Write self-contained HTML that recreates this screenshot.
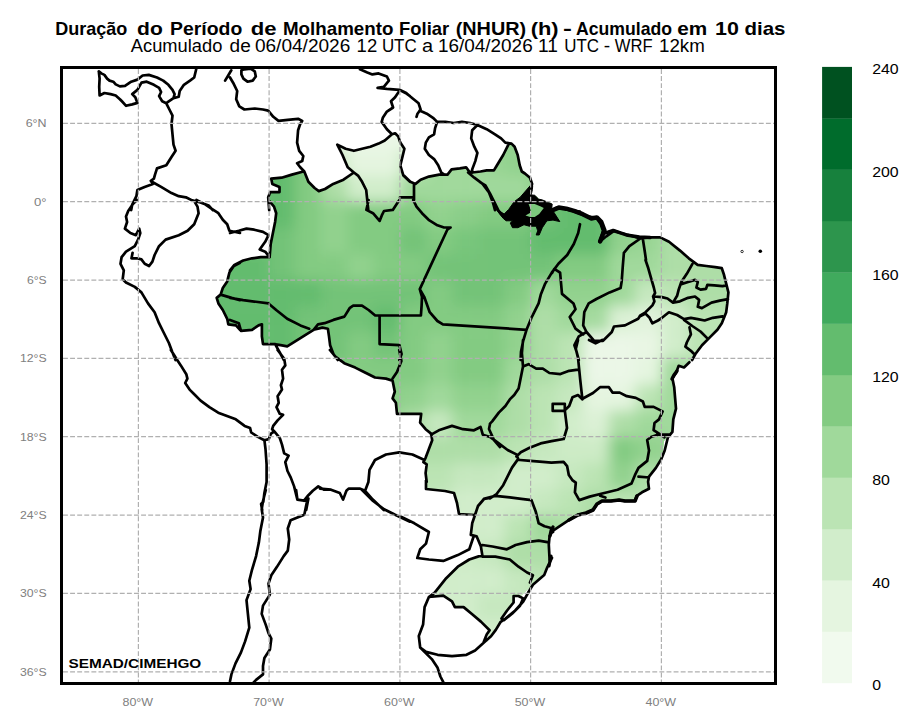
<!DOCTYPE html><html><head><meta charset="utf-8"><style>html,body{margin:0;padding:0;background:#fff;width:918px;height:727px;overflow:hidden}svg{display:block}text{font-family:"Liberation Sans",sans-serif}</style></head><body><svg width="918" height="727" viewBox="0 0 918 727"><g font-size="17.8" font-weight="bold" fill="#000"><text x="55.2" y="35" textLength="72.2" lengthAdjust="spacingAndGlyphs">Duração</text><text x="137.1" y="35" textLength="25.7" lengthAdjust="spacingAndGlyphs">do</text><text x="170.1" y="35" textLength="72.2" lengthAdjust="spacingAndGlyphs">Período</text><text x="250.7" y="35" textLength="25.8" lengthAdjust="spacingAndGlyphs">de</text><text x="283.0" y="35" textLength="110.4" lengthAdjust="spacingAndGlyphs">Molhamento</text><text x="399.1" y="35" textLength="50.1" lengthAdjust="spacingAndGlyphs">Foliar</text><text x="455.7" y="35" textLength="70.5" lengthAdjust="spacingAndGlyphs">(NHUR)</text><text x="530.7" y="35" textLength="27.9" lengthAdjust="spacingAndGlyphs">(h)</text><text x="563.1" y="35" textLength="8.9" lengthAdjust="spacingAndGlyphs">-</text><text x="576.0" y="35" textLength="96.0" lengthAdjust="spacingAndGlyphs">Acumulado</text><text x="677.3" y="35" textLength="30.0" lengthAdjust="spacingAndGlyphs">em</text><text x="715.0" y="35" textLength="23.9" lengthAdjust="spacingAndGlyphs">10</text><text x="744.6" y="35" textLength="40.9" lengthAdjust="spacingAndGlyphs">dias</text></g><g font-size="18.3" fill="#000"><text x="130.8" y="51.6" textLength="91.6" lengthAdjust="spacingAndGlyphs">Acumulado</text><text x="229.6" y="51.6" textLength="21.2" lengthAdjust="spacingAndGlyphs">de</text><text x="254.9" y="51.6" textLength="95.4" lengthAdjust="spacingAndGlyphs">06/04/2026</text><text x="356.6" y="51.6" textLength="20.6" lengthAdjust="spacingAndGlyphs">12</text><text x="381.9" y="51.6" textLength="34.8" lengthAdjust="spacingAndGlyphs">UTC</text><text x="422.1" y="51.6" textLength="11.1" lengthAdjust="spacingAndGlyphs">a</text><text x="437.9" y="51.6" textLength="94.8" lengthAdjust="spacingAndGlyphs">16/04/2026</text><text x="538.0" y="51.6" textLength="19.9" lengthAdjust="spacingAndGlyphs">11</text><text x="564.2" y="51.6" textLength="34.8" lengthAdjust="spacingAndGlyphs">UTC</text><text x="603.7" y="51.6" textLength="6.4" lengthAdjust="spacingAndGlyphs">-</text><text x="614.8" y="51.6" textLength="37.9" lengthAdjust="spacingAndGlyphs">WRF</text><text x="659.0" y="51.6" textLength="45.8" lengthAdjust="spacingAndGlyphs">12km</text></g><g id="map"><defs><clipPath id="br"><polygon points="270,257 271,244 273,233 275,222 276,213 274,207 269,200 268,197 270,192 280,192 280,187 272,184 271,179 282,178 292,175 303,171 308,182 315,188 319,191 325,189 333,184 344,180 354,172 348,167 342,155 337,145 346,149 354,151 362,149 370,147 379,144 385,141 392,134 395,133 398,136 400,143 404,149 402,157 400,165 403,176 410,182 415,184 421,180 429,177 439,175 447,175 452,169 460,168 466,167 469,171 472,172 481,171 487,170 494,170 497,165 503,155 508,145 511,144 515,147 518,155 520,165 522,171 525,174 530,178 532,184 531,190 531,195 536,196 540,200 545,201 551,203 552,208 556,208 563,208 570,211 580,212 588,217 596,218 601,224 603,231 600,242 606,236 614,231 621,233 629,235 640,239 649,237 660,237 669,242 680,251 689,258 698,265 706,266 715,267 722,268 724,275 726,284 728,292 727,303 726,312 722,323 717,330 711,336 702,345 695,354 689,362 684,368 679,366 676,373 672,378 674,387 675,398 676,409 673,419 672,432 668,437 664,441 663,450 661,459 656,468 649,477 648,482 649,489 642,492 637,496 635,501 625,501 619,500 611,501 602,501 597,504 593,510 586,513 578,515 569,520 558,527 553,531 550,536 549,545 550,560 547,567 542,575 533,584 521,596 510,607 501,619 495,630 487,642 490,630 481,622 472,614 464,607 455,607 452,601 443,596 429,597 435,593 446,578 458,567 469,559 482,555 481,546 477,536 471,535 472,523 475,515 459,514 457,503 454,493 445,491 426,489 426,473 427,464 423,462 426,458 429,449 432,440 431,434 426,429 420,423 421,414 397,414 396,403 393,398 395,392 393,381 386,379 375,378 364,372 355,368 344,363 335,357 330,350 330,345 329,336 328,329 322,328 314,330 305,335 296,341 287,346 281,345 274,344 263,344 262,336 262,324 259,325 252,330 241,331 239,325 228,324 227,319 223,310 218,303 217,298 221,295 223,288 227,281 229,273 234,266 240,263 243,261 252,258 261,257"/></clipPath><filter id="bl" x="-10%" y="-10%" width="120%" height="120%"><feGaussianBlur stdDeviation="7"/></filter></defs><polygon points="270,257 271,244 273,233 275,222 276,213 274,207 269,200 268,197 270,192 280,192 280,187 272,184 271,179 282,178 292,175 303,171 308,182 315,188 319,191 325,189 333,184 344,180 354,172 348,167 342,155 337,145 346,149 354,151 362,149 370,147 379,144 385,141 392,134 395,133 398,136 400,143 404,149 402,157 400,165 403,176 410,182 415,184 421,180 429,177 439,175 447,175 452,169 460,168 466,167 469,171 472,172 481,171 487,170 494,170 497,165 503,155 508,145 511,144 515,147 518,155 520,165 522,171 525,174 530,178 532,184 531,190 531,195 536,196 540,200 545,201 551,203 552,208 556,208 563,208 570,211 580,212 588,217 596,218 601,224 603,231 600,242 606,236 614,231 621,233 629,235 640,239 649,237 660,237 669,242 680,251 689,258 698,265 706,266 715,267 722,268 724,275 726,284 728,292 727,303 726,312 722,323 717,330 711,336 702,345 695,354 689,362 684,368 679,366 676,373 672,378 674,387 675,398 676,409 673,419 672,432 668,437 664,441 663,450 661,459 656,468 649,477 648,482 649,489 642,492 637,496 635,501 625,501 619,500 611,501 602,501 597,504 593,510 586,513 578,515 569,520 558,527 553,531 550,536 549,545 550,560 547,567 542,575 533,584 521,596 510,607 501,619 495,630 487,642 490,630 481,622 472,614 464,607 455,607 452,601 443,596 429,597 435,593 446,578 458,567 469,559 482,555 481,546 477,536 471,535 472,523 475,515 459,514 457,503 454,493 445,491 426,489 426,473 427,464 423,462 426,458 429,449 432,440 431,434 426,429 420,423 421,414 397,414 396,403 393,398 395,392 393,381 386,379 375,378 364,372 355,368 344,363 335,357 330,350 330,345 329,336 328,329 322,328 314,330 305,335 296,341 287,346 281,345 274,344 263,344 262,336 262,324 259,325 252,330 241,331 239,325 228,324 227,319 223,310 218,303 217,298 221,295 223,288 227,281 229,273 234,266 240,263 243,261 252,258 261,257" fill="#a0d99b"/><g clip-path="url(#br)"><g filter="url(#bl)"><rect x="190.7" y="97.3" width="26.6" height="26.6" fill="#63bc6e"/><rect x="216.8" y="97.3" width="26.6" height="26.6" fill="#63bc6e"/><rect x="243.0" y="97.3" width="26.6" height="26.6" fill="#63bc6e"/><rect x="269.1" y="97.3" width="26.6" height="26.6" fill="#63bc6e"/><rect x="295.3" y="97.3" width="26.6" height="26.6" fill="#ebf7e7"/><rect x="321.4" y="97.3" width="26.6" height="26.6" fill="#ebf7e7"/><rect x="347.6" y="97.3" width="26.6" height="26.6" fill="#ebf7e7"/><rect x="373.8" y="97.3" width="26.6" height="26.6" fill="#ebf7e7"/><rect x="399.9" y="97.3" width="26.6" height="26.6" fill="#ebf7e7"/><rect x="426.0" y="97.3" width="26.6" height="26.6" fill="#ebf7e7"/><rect x="452.2" y="97.3" width="26.6" height="26.6" fill="#92d28e"/><rect x="478.4" y="97.3" width="26.6" height="26.6" fill="#92d28e"/><rect x="504.5" y="97.3" width="26.6" height="26.6" fill="#92d28e"/><rect x="530.6" y="97.3" width="26.6" height="26.6" fill="#92d28e"/><rect x="556.8" y="97.3" width="26.6" height="26.6" fill="#92d28e"/><rect x="582.9" y="97.3" width="26.6" height="26.6" fill="#92d28e"/><rect x="609.1" y="97.3" width="26.6" height="26.6" fill="#7bc77d"/><rect x="635.2" y="97.3" width="26.6" height="26.6" fill="#63bc6e"/><rect x="661.4" y="97.3" width="26.6" height="26.6" fill="#92d28e"/><rect x="687.5" y="97.3" width="26.6" height="26.6" fill="#92d28e"/><rect x="713.7" y="97.3" width="26.6" height="26.6" fill="#aedea7"/><rect x="739.8" y="97.3" width="26.6" height="26.6" fill="#aedea7"/><rect x="190.7" y="123.4" width="26.6" height="26.6" fill="#63bc6e"/><rect x="216.8" y="123.4" width="26.6" height="26.6" fill="#63bc6e"/><rect x="243.0" y="123.4" width="26.6" height="26.6" fill="#63bc6e"/><rect x="269.1" y="123.4" width="26.6" height="26.6" fill="#63bc6e"/><rect x="295.3" y="123.4" width="26.6" height="26.6" fill="#c0e6ba"/><rect x="321.4" y="123.4" width="26.6" height="26.6" fill="#ebf7e7"/><rect x="347.6" y="123.4" width="26.6" height="26.6" fill="#ebf7e7"/><rect x="373.8" y="123.4" width="26.6" height="26.6" fill="#ebf7e7"/><rect x="399.9" y="123.4" width="26.6" height="26.6" fill="#ebf7e7"/><rect x="426.0" y="123.4" width="26.6" height="26.6" fill="#ccebc5"/><rect x="452.2" y="123.4" width="26.6" height="26.6" fill="#9cd697"/><rect x="478.4" y="123.4" width="26.6" height="26.6" fill="#92d28e"/><rect x="504.5" y="123.4" width="26.6" height="26.6" fill="#92d28e"/><rect x="530.6" y="123.4" width="26.6" height="26.6" fill="#92d28e"/><rect x="556.8" y="123.4" width="26.6" height="26.6" fill="#92d28e"/><rect x="582.9" y="123.4" width="26.6" height="26.6" fill="#7bc77d"/><rect x="609.1" y="123.4" width="26.6" height="26.6" fill="#63bc6e"/><rect x="635.2" y="123.4" width="26.6" height="26.6" fill="#92d28e"/><rect x="661.4" y="123.4" width="26.6" height="26.6" fill="#92d28e"/><rect x="687.5" y="123.4" width="26.6" height="26.6" fill="#a0d99b"/><rect x="713.7" y="123.4" width="26.6" height="26.6" fill="#aedea7"/><rect x="739.8" y="123.4" width="26.6" height="26.6" fill="#aedea7"/><rect x="190.7" y="149.5" width="26.6" height="26.6" fill="#63bc6e"/><rect x="216.8" y="149.5" width="26.6" height="26.6" fill="#63bc6e"/><rect x="243.0" y="149.5" width="26.6" height="26.6" fill="#63bc6e"/><rect x="269.1" y="149.5" width="26.6" height="26.6" fill="#63bc6e"/><rect x="295.3" y="149.5" width="26.6" height="26.6" fill="#83cb82"/><rect x="321.4" y="149.5" width="26.6" height="26.6" fill="#ccebc5"/><rect x="347.6" y="149.5" width="26.6" height="26.6" fill="#e5f5e0"/><rect x="373.8" y="149.5" width="26.6" height="26.6" fill="#e5f5e0"/><rect x="399.9" y="149.5" width="26.6" height="26.6" fill="#c6e8bf"/><rect x="426.0" y="149.5" width="26.6" height="26.6" fill="#a0d99b"/><rect x="452.2" y="149.5" width="26.6" height="26.6" fill="#a0d99b"/><rect x="478.4" y="149.5" width="26.6" height="26.6" fill="#99d594"/><rect x="504.5" y="149.5" width="26.6" height="26.6" fill="#92d28e"/><rect x="530.6" y="149.5" width="26.6" height="26.6" fill="#92d28e"/><rect x="556.8" y="149.5" width="26.6" height="26.6" fill="#7bc77d"/><rect x="582.9" y="149.5" width="26.6" height="26.6" fill="#63bc6e"/><rect x="609.1" y="149.5" width="26.6" height="26.6" fill="#63bc6e"/><rect x="635.2" y="149.5" width="26.6" height="26.6" fill="#92d28e"/><rect x="661.4" y="149.5" width="26.6" height="26.6" fill="#92d28e"/><rect x="687.5" y="149.5" width="26.6" height="26.6" fill="#aedea7"/><rect x="713.7" y="149.5" width="26.6" height="26.6" fill="#aedea7"/><rect x="739.8" y="149.5" width="26.6" height="26.6" fill="#aedea7"/><rect x="190.7" y="175.6" width="26.6" height="26.6" fill="#63bc6e"/><rect x="216.8" y="175.6" width="26.6" height="26.6" fill="#63bc6e"/><rect x="243.0" y="175.6" width="26.6" height="26.6" fill="#63bc6e"/><rect x="269.1" y="175.6" width="26.6" height="26.6" fill="#63bc6e"/><rect x="295.3" y="175.6" width="26.6" height="26.6" fill="#83cb82"/><rect x="321.4" y="175.6" width="26.6" height="26.6" fill="#aedea7"/><rect x="347.6" y="175.6" width="26.6" height="26.6" fill="#d1edcb"/><rect x="373.8" y="175.6" width="26.6" height="26.6" fill="#d1edcb"/><rect x="399.9" y="175.6" width="26.6" height="26.6" fill="#a0d99b"/><rect x="426.0" y="175.6" width="26.6" height="26.6" fill="#a0d99b"/><rect x="452.2" y="175.6" width="26.6" height="26.6" fill="#a0d99b"/><rect x="478.4" y="175.6" width="26.6" height="26.6" fill="#a0d99b"/><rect x="504.5" y="175.6" width="26.6" height="26.6" fill="#a0d99b"/><rect x="530.6" y="175.6" width="26.6" height="26.6" fill="#8ace88"/><rect x="556.8" y="175.6" width="26.6" height="26.6" fill="#63bc6e"/><rect x="582.9" y="175.6" width="26.6" height="26.6" fill="#63bc6e"/><rect x="609.1" y="175.6" width="26.6" height="26.6" fill="#92d28e"/><rect x="635.2" y="175.6" width="26.6" height="26.6" fill="#92d28e"/><rect x="661.4" y="175.6" width="26.6" height="26.6" fill="#92d28e"/><rect x="687.5" y="175.6" width="26.6" height="26.6" fill="#aedea7"/><rect x="713.7" y="175.6" width="26.6" height="26.6" fill="#aedea7"/><rect x="739.8" y="175.6" width="26.6" height="26.6" fill="#aedea7"/><rect x="190.7" y="201.7" width="26.6" height="26.6" fill="#63bc6e"/><rect x="216.8" y="201.7" width="26.6" height="26.6" fill="#63bc6e"/><rect x="243.0" y="201.7" width="26.6" height="26.6" fill="#63bc6e"/><rect x="269.1" y="201.7" width="26.6" height="26.6" fill="#63bc6e"/><rect x="295.3" y="201.7" width="26.6" height="26.6" fill="#83cb82"/><rect x="321.4" y="201.7" width="26.6" height="26.6" fill="#92d28e"/><rect x="347.6" y="201.7" width="26.6" height="26.6" fill="#83cb82"/><rect x="373.8" y="201.7" width="26.6" height="26.6" fill="#83cb82"/><rect x="399.9" y="201.7" width="26.6" height="26.6" fill="#83cb82"/><rect x="426.0" y="201.7" width="26.6" height="26.6" fill="#92d28e"/><rect x="452.2" y="201.7" width="26.6" height="26.6" fill="#8ace88"/><rect x="478.4" y="201.7" width="26.6" height="26.6" fill="#83cb82"/><rect x="504.5" y="201.7" width="26.6" height="26.6" fill="#83cb82"/><rect x="530.6" y="201.7" width="26.6" height="26.6" fill="#73c378"/><rect x="556.8" y="201.7" width="26.6" height="26.6" fill="#63bc6e"/><rect x="582.9" y="201.7" width="26.6" height="26.6" fill="#63bc6e"/><rect x="609.1" y="201.7" width="26.6" height="26.6" fill="#92d28e"/><rect x="635.2" y="201.7" width="26.6" height="26.6" fill="#92d28e"/><rect x="661.4" y="201.7" width="26.6" height="26.6" fill="#aedea7"/><rect x="687.5" y="201.7" width="26.6" height="26.6" fill="#aedea7"/><rect x="713.7" y="201.7" width="26.6" height="26.6" fill="#aedea7"/><rect x="739.8" y="201.7" width="26.6" height="26.6" fill="#aedea7"/><rect x="190.7" y="227.8" width="26.6" height="26.6" fill="#63bc6e"/><rect x="216.8" y="227.8" width="26.6" height="26.6" fill="#63bc6e"/><rect x="243.0" y="227.8" width="26.6" height="26.6" fill="#6bc073"/><rect x="269.1" y="227.8" width="26.6" height="26.6" fill="#73c378"/><rect x="295.3" y="227.8" width="26.6" height="26.6" fill="#83cb82"/><rect x="321.4" y="227.8" width="26.6" height="26.6" fill="#92d28e"/><rect x="347.6" y="227.8" width="26.6" height="26.6" fill="#83cb82"/><rect x="373.8" y="227.8" width="26.6" height="26.6" fill="#83cb82"/><rect x="399.9" y="227.8" width="26.6" height="26.6" fill="#73c378"/><rect x="426.0" y="227.8" width="26.6" height="26.6" fill="#83cb82"/><rect x="452.2" y="227.8" width="26.6" height="26.6" fill="#78c67b"/><rect x="478.4" y="227.8" width="26.6" height="26.6" fill="#73c378"/><rect x="504.5" y="227.8" width="26.6" height="26.6" fill="#73c378"/><rect x="530.6" y="227.8" width="26.6" height="26.6" fill="#63bc6e"/><rect x="556.8" y="227.8" width="26.6" height="26.6" fill="#63bc6e"/><rect x="582.9" y="227.8" width="26.6" height="26.6" fill="#63bc6e"/><rect x="609.1" y="227.8" width="26.6" height="26.6" fill="#92d28e"/><rect x="635.2" y="227.8" width="26.6" height="26.6" fill="#99d594"/><rect x="661.4" y="227.8" width="26.6" height="26.6" fill="#aedea7"/><rect x="687.5" y="227.8" width="26.6" height="26.6" fill="#aedea7"/><rect x="713.7" y="227.8" width="26.6" height="26.6" fill="#aedea7"/><rect x="739.8" y="227.8" width="26.6" height="26.6" fill="#aedea7"/><rect x="190.7" y="254.0" width="26.6" height="26.6" fill="#63bc6e"/><rect x="216.8" y="254.0" width="26.6" height="26.6" fill="#63bc6e"/><rect x="243.0" y="254.0" width="26.6" height="26.6" fill="#63bc6e"/><rect x="269.1" y="254.0" width="26.6" height="26.6" fill="#73c378"/><rect x="295.3" y="254.0" width="26.6" height="26.6" fill="#83cb82"/><rect x="321.4" y="254.0" width="26.6" height="26.6" fill="#83cb82"/><rect x="347.6" y="254.0" width="26.6" height="26.6" fill="#92d28e"/><rect x="373.8" y="254.0" width="26.6" height="26.6" fill="#83cb82"/><rect x="399.9" y="254.0" width="26.6" height="26.6" fill="#83cb82"/><rect x="426.0" y="254.0" width="26.6" height="26.6" fill="#73c378"/><rect x="452.2" y="254.0" width="26.6" height="26.6" fill="#73c378"/><rect x="478.4" y="254.0" width="26.6" height="26.6" fill="#73c378"/><rect x="504.5" y="254.0" width="26.6" height="26.6" fill="#73c378"/><rect x="530.6" y="254.0" width="26.6" height="26.6" fill="#73c378"/><rect x="556.8" y="254.0" width="26.6" height="26.6" fill="#83cb82"/><rect x="582.9" y="254.0" width="26.6" height="26.6" fill="#83cb82"/><rect x="609.1" y="254.0" width="26.6" height="26.6" fill="#a0d99b"/><rect x="635.2" y="254.0" width="26.6" height="26.6" fill="#a0d99b"/><rect x="661.4" y="254.0" width="26.6" height="26.6" fill="#aedea7"/><rect x="687.5" y="254.0" width="26.6" height="26.6" fill="#aedea7"/><rect x="713.7" y="254.0" width="26.6" height="26.6" fill="#aedea7"/><rect x="739.8" y="254.0" width="26.6" height="26.6" fill="#aedea7"/><rect x="190.7" y="280.1" width="26.6" height="26.6" fill="#63bc6e"/><rect x="216.8" y="280.1" width="26.6" height="26.6" fill="#63bc6e"/><rect x="243.0" y="280.1" width="26.6" height="26.6" fill="#63bc6e"/><rect x="269.1" y="280.1" width="26.6" height="26.6" fill="#63bc6e"/><rect x="295.3" y="280.1" width="26.6" height="26.6" fill="#63bc6e"/><rect x="321.4" y="280.1" width="26.6" height="26.6" fill="#73c378"/><rect x="347.6" y="280.1" width="26.6" height="26.6" fill="#73c378"/><rect x="373.8" y="280.1" width="26.6" height="26.6" fill="#73c378"/><rect x="399.9" y="280.1" width="26.6" height="26.6" fill="#73c378"/><rect x="426.0" y="280.1" width="26.6" height="26.6" fill="#83cb82"/><rect x="452.2" y="280.1" width="26.6" height="26.6" fill="#73c378"/><rect x="478.4" y="280.1" width="26.6" height="26.6" fill="#73c378"/><rect x="504.5" y="280.1" width="26.6" height="26.6" fill="#83cb82"/><rect x="530.6" y="280.1" width="26.6" height="26.6" fill="#a0d99b"/><rect x="556.8" y="280.1" width="26.6" height="26.6" fill="#92d28e"/><rect x="582.9" y="280.1" width="26.6" height="26.6" fill="#92d28e"/><rect x="609.1" y="280.1" width="26.6" height="26.6" fill="#a0d99b"/><rect x="635.2" y="280.1" width="26.6" height="26.6" fill="#c6e8bf"/><rect x="661.4" y="280.1" width="26.6" height="26.6" fill="#bbe4b4"/><rect x="687.5" y="280.1" width="26.6" height="26.6" fill="#aedea7"/><rect x="713.7" y="280.1" width="26.6" height="26.6" fill="#aedea7"/><rect x="739.8" y="280.1" width="26.6" height="26.6" fill="#aedea7"/><rect x="190.7" y="306.2" width="26.6" height="26.6" fill="#63bc6e"/><rect x="216.8" y="306.2" width="26.6" height="26.6" fill="#63bc6e"/><rect x="243.0" y="306.2" width="26.6" height="26.6" fill="#63bc6e"/><rect x="269.1" y="306.2" width="26.6" height="26.6" fill="#63bc6e"/><rect x="295.3" y="306.2" width="26.6" height="26.6" fill="#73c378"/><rect x="321.4" y="306.2" width="26.6" height="26.6" fill="#73c378"/><rect x="347.6" y="306.2" width="26.6" height="26.6" fill="#73c378"/><rect x="373.8" y="306.2" width="26.6" height="26.6" fill="#63bc6e"/><rect x="399.9" y="306.2" width="26.6" height="26.6" fill="#83cb82"/><rect x="426.0" y="306.2" width="26.6" height="26.6" fill="#83cb82"/><rect x="452.2" y="306.2" width="26.6" height="26.6" fill="#83cb82"/><rect x="478.4" y="306.2" width="26.6" height="26.6" fill="#83cb82"/><rect x="504.5" y="306.2" width="26.6" height="26.6" fill="#92d28e"/><rect x="530.6" y="306.2" width="26.6" height="26.6" fill="#aedea7"/><rect x="556.8" y="306.2" width="26.6" height="26.6" fill="#a0d99b"/><rect x="582.9" y="306.2" width="26.6" height="26.6" fill="#a6dba0"/><rect x="609.1" y="306.2" width="26.6" height="26.6" fill="#dbf1d5"/><rect x="635.2" y="306.2" width="26.6" height="26.6" fill="#e1f3dc"/><rect x="661.4" y="306.2" width="26.6" height="26.6" fill="#d1edcb"/><rect x="687.5" y="306.2" width="26.6" height="26.6" fill="#bbe4b4"/><rect x="713.7" y="306.2" width="26.6" height="26.6" fill="#bbe4b4"/><rect x="739.8" y="306.2" width="26.6" height="26.6" fill="#bbe4b4"/><rect x="190.7" y="332.3" width="26.6" height="26.6" fill="#63bc6e"/><rect x="216.8" y="332.3" width="26.6" height="26.6" fill="#63bc6e"/><rect x="243.0" y="332.3" width="26.6" height="26.6" fill="#63bc6e"/><rect x="269.1" y="332.3" width="26.6" height="26.6" fill="#63bc6e"/><rect x="295.3" y="332.3" width="26.6" height="26.6" fill="#73c378"/><rect x="321.4" y="332.3" width="26.6" height="26.6" fill="#73c378"/><rect x="347.6" y="332.3" width="26.6" height="26.6" fill="#83cb82"/><rect x="373.8" y="332.3" width="26.6" height="26.6" fill="#73c378"/><rect x="399.9" y="332.3" width="26.6" height="26.6" fill="#83cb82"/><rect x="426.0" y="332.3" width="26.6" height="26.6" fill="#92d28e"/><rect x="452.2" y="332.3" width="26.6" height="26.6" fill="#83cb82"/><rect x="478.4" y="332.3" width="26.6" height="26.6" fill="#83cb82"/><rect x="504.5" y="332.3" width="26.6" height="26.6" fill="#92d28e"/><rect x="530.6" y="332.3" width="26.6" height="26.6" fill="#aedea7"/><rect x="556.8" y="332.3" width="26.6" height="26.6" fill="#bbe4b4"/><rect x="582.9" y="332.3" width="26.6" height="26.6" fill="#ebf7e7"/><rect x="609.1" y="332.3" width="26.6" height="26.6" fill="#ebf7e7"/><rect x="635.2" y="332.3" width="26.6" height="26.6" fill="#e9f6e4"/><rect x="661.4" y="332.3" width="26.6" height="26.6" fill="#d1edcb"/><rect x="687.5" y="332.3" width="26.6" height="26.6" fill="#bbe4b4"/><rect x="713.7" y="332.3" width="26.6" height="26.6" fill="#bbe4b4"/><rect x="739.8" y="332.3" width="26.6" height="26.6" fill="#bbe4b4"/><rect x="190.7" y="358.4" width="26.6" height="26.6" fill="#63bc6e"/><rect x="216.8" y="358.4" width="26.6" height="26.6" fill="#63bc6e"/><rect x="243.0" y="358.4" width="26.6" height="26.6" fill="#63bc6e"/><rect x="269.1" y="358.4" width="26.6" height="26.6" fill="#63bc6e"/><rect x="295.3" y="358.4" width="26.6" height="26.6" fill="#73c378"/><rect x="321.4" y="358.4" width="26.6" height="26.6" fill="#7bc77d"/><rect x="347.6" y="358.4" width="26.6" height="26.6" fill="#83cb82"/><rect x="373.8" y="358.4" width="26.6" height="26.6" fill="#83cb82"/><rect x="399.9" y="358.4" width="26.6" height="26.6" fill="#83cb82"/><rect x="426.0" y="358.4" width="26.6" height="26.6" fill="#92d28e"/><rect x="452.2" y="358.4" width="26.6" height="26.6" fill="#83cb82"/><rect x="478.4" y="358.4" width="26.6" height="26.6" fill="#83cb82"/><rect x="504.5" y="358.4" width="26.6" height="26.6" fill="#a0d99b"/><rect x="530.6" y="358.4" width="26.6" height="26.6" fill="#aedea7"/><rect x="556.8" y="358.4" width="26.6" height="26.6" fill="#bbe4b4"/><rect x="582.9" y="358.4" width="26.6" height="26.6" fill="#ebf7e7"/><rect x="609.1" y="358.4" width="26.6" height="26.6" fill="#ebf7e7"/><rect x="635.2" y="358.4" width="26.6" height="26.6" fill="#e5f5e0"/><rect x="661.4" y="358.4" width="26.6" height="26.6" fill="#a0d99b"/><rect x="687.5" y="358.4" width="26.6" height="26.6" fill="#aedea7"/><rect x="713.7" y="358.4" width="26.6" height="26.6" fill="#bbe4b4"/><rect x="739.8" y="358.4" width="26.6" height="26.6" fill="#bbe4b4"/><rect x="190.7" y="384.5" width="26.6" height="26.6" fill="#63bc6e"/><rect x="216.8" y="384.5" width="26.6" height="26.6" fill="#63bc6e"/><rect x="243.0" y="384.5" width="26.6" height="26.6" fill="#63bc6e"/><rect x="269.1" y="384.5" width="26.6" height="26.6" fill="#73c378"/><rect x="295.3" y="384.5" width="26.6" height="26.6" fill="#7bc77d"/><rect x="321.4" y="384.5" width="26.6" height="26.6" fill="#83cb82"/><rect x="347.6" y="384.5" width="26.6" height="26.6" fill="#83cb82"/><rect x="373.8" y="384.5" width="26.6" height="26.6" fill="#8ace88"/><rect x="399.9" y="384.5" width="26.6" height="26.6" fill="#92d28e"/><rect x="426.0" y="384.5" width="26.6" height="26.6" fill="#a0d99b"/><rect x="452.2" y="384.5" width="26.6" height="26.6" fill="#92d28e"/><rect x="478.4" y="384.5" width="26.6" height="26.6" fill="#92d28e"/><rect x="504.5" y="384.5" width="26.6" height="26.6" fill="#aedea7"/><rect x="530.6" y="384.5" width="26.6" height="26.6" fill="#bbe4b4"/><rect x="556.8" y="384.5" width="26.6" height="26.6" fill="#c6e8bf"/><rect x="582.9" y="384.5" width="26.6" height="26.6" fill="#e5f5e0"/><rect x="609.1" y="384.5" width="26.6" height="26.6" fill="#e5f5e0"/><rect x="635.2" y="384.5" width="26.6" height="26.6" fill="#bbe4b4"/><rect x="661.4" y="384.5" width="26.6" height="26.6" fill="#a0d99b"/><rect x="687.5" y="384.5" width="26.6" height="26.6" fill="#a0d99b"/><rect x="713.7" y="384.5" width="26.6" height="26.6" fill="#a0d99b"/><rect x="739.8" y="384.5" width="26.6" height="26.6" fill="#bbe4b4"/><rect x="190.7" y="410.6" width="26.6" height="26.6" fill="#63bc6e"/><rect x="216.8" y="410.6" width="26.6" height="26.6" fill="#63bc6e"/><rect x="243.0" y="410.6" width="26.6" height="26.6" fill="#63bc6e"/><rect x="269.1" y="410.6" width="26.6" height="26.6" fill="#7bc77d"/><rect x="295.3" y="410.6" width="26.6" height="26.6" fill="#83cb82"/><rect x="321.4" y="410.6" width="26.6" height="26.6" fill="#83cb82"/><rect x="347.6" y="410.6" width="26.6" height="26.6" fill="#83cb82"/><rect x="373.8" y="410.6" width="26.6" height="26.6" fill="#92d28e"/><rect x="399.9" y="410.6" width="26.6" height="26.6" fill="#aedea7"/><rect x="426.0" y="410.6" width="26.6" height="26.6" fill="#c6e8bf"/><rect x="452.2" y="410.6" width="26.6" height="26.6" fill="#a0d99b"/><rect x="478.4" y="410.6" width="26.6" height="26.6" fill="#a0d99b"/><rect x="504.5" y="410.6" width="26.6" height="26.6" fill="#aedea7"/><rect x="530.6" y="410.6" width="26.6" height="26.6" fill="#bbe4b4"/><rect x="556.8" y="410.6" width="26.6" height="26.6" fill="#d1edcb"/><rect x="582.9" y="410.6" width="26.6" height="26.6" fill="#dbf1d5"/><rect x="609.1" y="410.6" width="26.6" height="26.6" fill="#aedea7"/><rect x="635.2" y="410.6" width="26.6" height="26.6" fill="#a0d99b"/><rect x="661.4" y="410.6" width="26.6" height="26.6" fill="#a0d99b"/><rect x="687.5" y="410.6" width="26.6" height="26.6" fill="#a0d99b"/><rect x="713.7" y="410.6" width="26.6" height="26.6" fill="#a0d99b"/><rect x="739.8" y="410.6" width="26.6" height="26.6" fill="#a0d99b"/><rect x="190.7" y="436.7" width="26.6" height="26.6" fill="#63bc6e"/><rect x="216.8" y="436.7" width="26.6" height="26.6" fill="#63bc6e"/><rect x="243.0" y="436.7" width="26.6" height="26.6" fill="#73c378"/><rect x="269.1" y="436.7" width="26.6" height="26.6" fill="#83cb82"/><rect x="295.3" y="436.7" width="26.6" height="26.6" fill="#83cb82"/><rect x="321.4" y="436.7" width="26.6" height="26.6" fill="#83cb82"/><rect x="347.6" y="436.7" width="26.6" height="26.6" fill="#92d28e"/><rect x="373.8" y="436.7" width="26.6" height="26.6" fill="#aedea7"/><rect x="399.9" y="436.7" width="26.6" height="26.6" fill="#aedea7"/><rect x="426.0" y="436.7" width="26.6" height="26.6" fill="#aedea7"/><rect x="452.2" y="436.7" width="26.6" height="26.6" fill="#aedea7"/><rect x="478.4" y="436.7" width="26.6" height="26.6" fill="#aedea7"/><rect x="504.5" y="436.7" width="26.6" height="26.6" fill="#bbe4b4"/><rect x="530.6" y="436.7" width="26.6" height="26.6" fill="#c6e8bf"/><rect x="556.8" y="436.7" width="26.6" height="26.6" fill="#cdebc6"/><rect x="582.9" y="436.7" width="26.6" height="26.6" fill="#cdebc6"/><rect x="609.1" y="436.7" width="26.6" height="26.6" fill="#83cb82"/><rect x="635.2" y="436.7" width="26.6" height="26.6" fill="#92d28e"/><rect x="661.4" y="436.7" width="26.6" height="26.6" fill="#99d594"/><rect x="687.5" y="436.7" width="26.6" height="26.6" fill="#a0d99b"/><rect x="713.7" y="436.7" width="26.6" height="26.6" fill="#a0d99b"/><rect x="739.8" y="436.7" width="26.6" height="26.6" fill="#a0d99b"/><rect x="190.7" y="462.9" width="26.6" height="26.6" fill="#63bc6e"/><rect x="216.8" y="462.9" width="26.6" height="26.6" fill="#63bc6e"/><rect x="243.0" y="462.9" width="26.6" height="26.6" fill="#83cb82"/><rect x="269.1" y="462.9" width="26.6" height="26.6" fill="#83cb82"/><rect x="295.3" y="462.9" width="26.6" height="26.6" fill="#83cb82"/><rect x="321.4" y="462.9" width="26.6" height="26.6" fill="#bbe4b4"/><rect x="347.6" y="462.9" width="26.6" height="26.6" fill="#bbe4b4"/><rect x="373.8" y="462.9" width="26.6" height="26.6" fill="#bbe4b4"/><rect x="399.9" y="462.9" width="26.6" height="26.6" fill="#bbe4b4"/><rect x="426.0" y="462.9" width="26.6" height="26.6" fill="#bbe4b4"/><rect x="452.2" y="462.9" width="26.6" height="26.6" fill="#c6e8bf"/><rect x="478.4" y="462.9" width="26.6" height="26.6" fill="#c6e8bf"/><rect x="504.5" y="462.9" width="26.6" height="26.6" fill="#d1edcb"/><rect x="530.6" y="462.9" width="26.6" height="26.6" fill="#d1edcb"/><rect x="556.8" y="462.9" width="26.6" height="26.6" fill="#c6e8bf"/><rect x="582.9" y="462.9" width="26.6" height="26.6" fill="#bbe4b4"/><rect x="609.1" y="462.9" width="26.6" height="26.6" fill="#92d28e"/><rect x="635.2" y="462.9" width="26.6" height="26.6" fill="#aedea7"/><rect x="661.4" y="462.9" width="26.6" height="26.6" fill="#aedea7"/><rect x="687.5" y="462.9" width="26.6" height="26.6" fill="#aedea7"/><rect x="713.7" y="462.9" width="26.6" height="26.6" fill="#a0d99b"/><rect x="739.8" y="462.9" width="26.6" height="26.6" fill="#a0d99b"/><rect x="190.7" y="489.0" width="26.6" height="26.6" fill="#63bc6e"/><rect x="216.8" y="489.0" width="26.6" height="26.6" fill="#63bc6e"/><rect x="243.0" y="489.0" width="26.6" height="26.6" fill="#83cb82"/><rect x="269.1" y="489.0" width="26.6" height="26.6" fill="#83cb82"/><rect x="295.3" y="489.0" width="26.6" height="26.6" fill="#bbe4b4"/><rect x="321.4" y="489.0" width="26.6" height="26.6" fill="#bbe4b4"/><rect x="347.6" y="489.0" width="26.6" height="26.6" fill="#bbe4b4"/><rect x="373.8" y="489.0" width="26.6" height="26.6" fill="#bbe4b4"/><rect x="399.9" y="489.0" width="26.6" height="26.6" fill="#bbe4b4"/><rect x="426.0" y="489.0" width="26.6" height="26.6" fill="#c6e8bf"/><rect x="452.2" y="489.0" width="26.6" height="26.6" fill="#d1edcb"/><rect x="478.4" y="489.0" width="26.6" height="26.6" fill="#d1edcb"/><rect x="504.5" y="489.0" width="26.6" height="26.6" fill="#d1edcb"/><rect x="530.6" y="489.0" width="26.6" height="26.6" fill="#c6e8bf"/><rect x="556.8" y="489.0" width="26.6" height="26.6" fill="#bbe4b4"/><rect x="582.9" y="489.0" width="26.6" height="26.6" fill="#aedea7"/><rect x="609.1" y="489.0" width="26.6" height="26.6" fill="#bbe4b4"/><rect x="635.2" y="489.0" width="26.6" height="26.6" fill="#b4e1ae"/><rect x="661.4" y="489.0" width="26.6" height="26.6" fill="#aedea7"/><rect x="687.5" y="489.0" width="26.6" height="26.6" fill="#aedea7"/><rect x="713.7" y="489.0" width="26.6" height="26.6" fill="#aedea7"/><rect x="739.8" y="489.0" width="26.6" height="26.6" fill="#aedea7"/><rect x="190.7" y="515.1" width="26.6" height="26.6" fill="#63bc6e"/><rect x="216.8" y="515.1" width="26.6" height="26.6" fill="#83cb82"/><rect x="243.0" y="515.1" width="26.6" height="26.6" fill="#83cb82"/><rect x="269.1" y="515.1" width="26.6" height="26.6" fill="#bbe4b4"/><rect x="295.3" y="515.1" width="26.6" height="26.6" fill="#bbe4b4"/><rect x="321.4" y="515.1" width="26.6" height="26.6" fill="#bbe4b4"/><rect x="347.6" y="515.1" width="26.6" height="26.6" fill="#bbe4b4"/><rect x="373.8" y="515.1" width="26.6" height="26.6" fill="#bbe4b4"/><rect x="399.9" y="515.1" width="26.6" height="26.6" fill="#c6e8bf"/><rect x="426.0" y="515.1" width="26.6" height="26.6" fill="#d1edcb"/><rect x="452.2" y="515.1" width="26.6" height="26.6" fill="#d1edcb"/><rect x="478.4" y="515.1" width="26.6" height="26.6" fill="#d1edcb"/><rect x="504.5" y="515.1" width="26.6" height="26.6" fill="#bbe4b4"/><rect x="530.6" y="515.1" width="26.6" height="26.6" fill="#a0d99b"/><rect x="556.8" y="515.1" width="26.6" height="26.6" fill="#aedea7"/><rect x="582.9" y="515.1" width="26.6" height="26.6" fill="#aedea7"/><rect x="609.1" y="515.1" width="26.6" height="26.6" fill="#bbe4b4"/><rect x="635.2" y="515.1" width="26.6" height="26.6" fill="#bbe4b4"/><rect x="661.4" y="515.1" width="26.6" height="26.6" fill="#b4e1ae"/><rect x="687.5" y="515.1" width="26.6" height="26.6" fill="#aedea7"/><rect x="713.7" y="515.1" width="26.6" height="26.6" fill="#aedea7"/><rect x="739.8" y="515.1" width="26.6" height="26.6" fill="#aedea7"/><rect x="190.7" y="541.2" width="26.6" height="26.6" fill="#63bc6e"/><rect x="216.8" y="541.2" width="26.6" height="26.6" fill="#bbe4b4"/><rect x="243.0" y="541.2" width="26.6" height="26.6" fill="#bbe4b4"/><rect x="269.1" y="541.2" width="26.6" height="26.6" fill="#bbe4b4"/><rect x="295.3" y="541.2" width="26.6" height="26.6" fill="#bbe4b4"/><rect x="321.4" y="541.2" width="26.6" height="26.6" fill="#bbe4b4"/><rect x="347.6" y="541.2" width="26.6" height="26.6" fill="#d1edcb"/><rect x="373.8" y="541.2" width="26.6" height="26.6" fill="#d1edcb"/><rect x="399.9" y="541.2" width="26.6" height="26.6" fill="#d1edcb"/><rect x="426.0" y="541.2" width="26.6" height="26.6" fill="#d1edcb"/><rect x="452.2" y="541.2" width="26.6" height="26.6" fill="#ccebc5"/><rect x="478.4" y="541.2" width="26.6" height="26.6" fill="#c6e8bf"/><rect x="504.5" y="541.2" width="26.6" height="26.6" fill="#aedea7"/><rect x="530.6" y="541.2" width="26.6" height="26.6" fill="#aedea7"/><rect x="556.8" y="541.2" width="26.6" height="26.6" fill="#aedea7"/><rect x="582.9" y="541.2" width="26.6" height="26.6" fill="#aedea7"/><rect x="609.1" y="541.2" width="26.6" height="26.6" fill="#bbe4b4"/><rect x="635.2" y="541.2" width="26.6" height="26.6" fill="#bbe4b4"/><rect x="661.4" y="541.2" width="26.6" height="26.6" fill="#bbe4b4"/><rect x="687.5" y="541.2" width="26.6" height="26.6" fill="#b4e1ae"/><rect x="713.7" y="541.2" width="26.6" height="26.6" fill="#aedea7"/><rect x="739.8" y="541.2" width="26.6" height="26.6" fill="#aedea7"/><rect x="190.7" y="567.3" width="26.6" height="26.6" fill="#bbe4b4"/><rect x="216.8" y="567.3" width="26.6" height="26.6" fill="#bbe4b4"/><rect x="243.0" y="567.3" width="26.6" height="26.6" fill="#d1edcb"/><rect x="269.1" y="567.3" width="26.6" height="26.6" fill="#d1edcb"/><rect x="295.3" y="567.3" width="26.6" height="26.6" fill="#d1edcb"/><rect x="321.4" y="567.3" width="26.6" height="26.6" fill="#d1edcb"/><rect x="347.6" y="567.3" width="26.6" height="26.6" fill="#d1edcb"/><rect x="373.8" y="567.3" width="26.6" height="26.6" fill="#d1edcb"/><rect x="399.9" y="567.3" width="26.6" height="26.6" fill="#d1edcb"/><rect x="426.0" y="567.3" width="26.6" height="26.6" fill="#d1edcb"/><rect x="452.2" y="567.3" width="26.6" height="26.6" fill="#d1edcb"/><rect x="478.4" y="567.3" width="26.6" height="26.6" fill="#d1edcb"/><rect x="504.5" y="567.3" width="26.6" height="26.6" fill="#c6e8bf"/><rect x="530.6" y="567.3" width="26.6" height="26.6" fill="#bbe4b4"/><rect x="556.8" y="567.3" width="26.6" height="26.6" fill="#aedea7"/><rect x="582.9" y="567.3" width="26.6" height="26.6" fill="#aedea7"/><rect x="609.1" y="567.3" width="26.6" height="26.6" fill="#bbe4b4"/><rect x="635.2" y="567.3" width="26.6" height="26.6" fill="#bbe4b4"/><rect x="661.4" y="567.3" width="26.6" height="26.6" fill="#bbe4b4"/><rect x="687.5" y="567.3" width="26.6" height="26.6" fill="#bbe4b4"/><rect x="713.7" y="567.3" width="26.6" height="26.6" fill="#b4e1ae"/><rect x="739.8" y="567.3" width="26.6" height="26.6" fill="#aedea7"/><rect x="190.7" y="593.4" width="26.6" height="26.6" fill="#d1edcb"/><rect x="216.8" y="593.4" width="26.6" height="26.6" fill="#d1edcb"/><rect x="243.0" y="593.4" width="26.6" height="26.6" fill="#d1edcb"/><rect x="269.1" y="593.4" width="26.6" height="26.6" fill="#d1edcb"/><rect x="295.3" y="593.4" width="26.6" height="26.6" fill="#d1edcb"/><rect x="321.4" y="593.4" width="26.6" height="26.6" fill="#d1edcb"/><rect x="347.6" y="593.4" width="26.6" height="26.6" fill="#d1edcb"/><rect x="373.8" y="593.4" width="26.6" height="26.6" fill="#d1edcb"/><rect x="399.9" y="593.4" width="26.6" height="26.6" fill="#d1edcb"/><rect x="426.0" y="593.4" width="26.6" height="26.6" fill="#d1edcb"/><rect x="452.2" y="593.4" width="26.6" height="26.6" fill="#d1edcb"/><rect x="478.4" y="593.4" width="26.6" height="26.6" fill="#c6e8bf"/><rect x="504.5" y="593.4" width="26.6" height="26.6" fill="#c6e8bf"/><rect x="530.6" y="593.4" width="26.6" height="26.6" fill="#c6e8bf"/><rect x="556.8" y="593.4" width="26.6" height="26.6" fill="#bbe4b4"/><rect x="582.9" y="593.4" width="26.6" height="26.6" fill="#aedea7"/><rect x="609.1" y="593.4" width="26.6" height="26.6" fill="#aedea7"/><rect x="635.2" y="593.4" width="26.6" height="26.6" fill="#bbe4b4"/><rect x="661.4" y="593.4" width="26.6" height="26.6" fill="#bbe4b4"/><rect x="687.5" y="593.4" width="26.6" height="26.6" fill="#bbe4b4"/><rect x="713.7" y="593.4" width="26.6" height="26.6" fill="#bbe4b4"/><rect x="739.8" y="593.4" width="26.6" height="26.6" fill="#b4e1ae"/><rect x="190.7" y="619.5" width="26.6" height="26.6" fill="#d1edcb"/><rect x="216.8" y="619.5" width="26.6" height="26.6" fill="#d1edcb"/><rect x="243.0" y="619.5" width="26.6" height="26.6" fill="#d1edcb"/><rect x="269.1" y="619.5" width="26.6" height="26.6" fill="#d1edcb"/><rect x="295.3" y="619.5" width="26.6" height="26.6" fill="#d1edcb"/><rect x="321.4" y="619.5" width="26.6" height="26.6" fill="#d1edcb"/><rect x="347.6" y="619.5" width="26.6" height="26.6" fill="#d1edcb"/><rect x="373.8" y="619.5" width="26.6" height="26.6" fill="#d1edcb"/><rect x="399.9" y="619.5" width="26.6" height="26.6" fill="#d1edcb"/><rect x="426.0" y="619.5" width="26.6" height="26.6" fill="#d1edcb"/><rect x="452.2" y="619.5" width="26.6" height="26.6" fill="#d1edcb"/><rect x="478.4" y="619.5" width="26.6" height="26.6" fill="#d1edcb"/><rect x="504.5" y="619.5" width="26.6" height="26.6" fill="#d1edcb"/><rect x="530.6" y="619.5" width="26.6" height="26.6" fill="#d1edcb"/><rect x="556.8" y="619.5" width="26.6" height="26.6" fill="#c6e8bf"/><rect x="582.9" y="619.5" width="26.6" height="26.6" fill="#bbe4b4"/><rect x="609.1" y="619.5" width="26.6" height="26.6" fill="#aedea7"/><rect x="635.2" y="619.5" width="26.6" height="26.6" fill="#aedea7"/><rect x="661.4" y="619.5" width="26.6" height="26.6" fill="#bbe4b4"/><rect x="687.5" y="619.5" width="26.6" height="26.6" fill="#bbe4b4"/><rect x="713.7" y="619.5" width="26.6" height="26.6" fill="#bbe4b4"/><rect x="739.8" y="619.5" width="26.6" height="26.6" fill="#bbe4b4"/><rect x="190.7" y="645.6" width="26.6" height="26.6" fill="#d1edcb"/><rect x="216.8" y="645.6" width="26.6" height="26.6" fill="#d1edcb"/><rect x="243.0" y="645.6" width="26.6" height="26.6" fill="#d1edcb"/><rect x="269.1" y="645.6" width="26.6" height="26.6" fill="#d1edcb"/><rect x="295.3" y="645.6" width="26.6" height="26.6" fill="#d1edcb"/><rect x="321.4" y="645.6" width="26.6" height="26.6" fill="#d1edcb"/><rect x="347.6" y="645.6" width="26.6" height="26.6" fill="#d1edcb"/><rect x="373.8" y="645.6" width="26.6" height="26.6" fill="#d1edcb"/><rect x="399.9" y="645.6" width="26.6" height="26.6" fill="#d1edcb"/><rect x="426.0" y="645.6" width="26.6" height="26.6" fill="#d1edcb"/><rect x="452.2" y="645.6" width="26.6" height="26.6" fill="#d1edcb"/><rect x="478.4" y="645.6" width="26.6" height="26.6" fill="#d1edcb"/><rect x="504.5" y="645.6" width="26.6" height="26.6" fill="#d1edcb"/><rect x="530.6" y="645.6" width="26.6" height="26.6" fill="#d1edcb"/><rect x="556.8" y="645.6" width="26.6" height="26.6" fill="#d1edcb"/><rect x="582.9" y="645.6" width="26.6" height="26.6" fill="#d1edcb"/><rect x="609.1" y="645.6" width="26.6" height="26.6" fill="#bbe4b4"/><rect x="635.2" y="645.6" width="26.6" height="26.6" fill="#aedea7"/><rect x="661.4" y="645.6" width="26.6" height="26.6" fill="#bbe4b4"/><rect x="687.5" y="645.6" width="26.6" height="26.6" fill="#bbe4b4"/><rect x="713.7" y="645.6" width="26.6" height="26.6" fill="#bbe4b4"/><rect x="739.8" y="645.6" width="26.6" height="26.6" fill="#bbe4b4"/></g></g><polygon points="513.6,596 518.4,596 523.2,598.4 520,605.7 512,613.8 503.9,620.2 501.5,618.6 507.1,610.5 513.6,602.5" fill="#fff"/><circle cx="742.1" cy="251.5" r="1.2" fill="none" stroke="#000" stroke-width="0.8"/><circle cx="760.3" cy="251.2" r="1.8" fill="#000"/><polygon fill="#000" stroke="#000" stroke-width="1" stroke-linejoin="round" points="530.8,185.0 532.7,185.8 532.4,189.6 531.2,194.9 534.7,195.3 538.5,199.1 542.3,199.9 548.4,202.5 552.2,204.1 551.8,207.9 553.0,210.9 559.8,221.6 553.0,220.1 546.9,220.8 542.3,227.7 539.2,235.0 536.2,235.0 537.7,230.8 536.2,226.2 529.3,226.2 524.0,224.7 517.9,227.7 512.5,227.7 510.3,223.1 512.5,220.8 506.4,220.8 503.4,218.6 499.6,214.0 495.0,207.9 498.0,210.2 504.2,214.0 508.7,209.4 514.1,201.8 520.2,197.2 525.5,191.1"/><polygon fill="#7cc87d" points="528.6,204.1 534.7,204.1 540.8,206.4 543.8,207.9 539.2,214.0 534.7,217.0 530.1,217.0 525.5,215.5 530.8,212.5 530.1,207.9"/><path fill="none" stroke="#000" stroke-width="3.6" stroke-linejoin="round" stroke-linecap="round" d="M637.0 496.0 L635.0 501.0 L625.0 501.0 L619.0 500.0 L611.0 501.0 L602.0 501.0 L597.0 504.0 L593.0 510.0 L586.0 513.0 L578.0 515.0 L569.0 520.0"/><path fill="none" stroke="#000" stroke-width="3.4" stroke-linejoin="round" stroke-linecap="round" d="M553.0 527.0 L551.0 531.0 L550.0 536.0"/><path fill="none" stroke="#000" stroke-width="3.2" stroke-linejoin="round" stroke-linecap="round" d="M551.0 556.0 L550.0 561.0 L549.0 566.0"/><path fill="none" stroke="#000" stroke-width="3.5" stroke-linejoin="round" stroke-linecap="round" d="M677.0 371.0 L674.0 375.0 L672.0 379.0"/><path fill="none" stroke="#000" stroke-width="4.5" stroke-linejoin="round" stroke-linecap="round" d="M553.3 209.8 L558.7 207.6 L566.3 208.7 L574.0 210.9 L582.7 214.2 L591.4 218.5 L596.8 217.4 L601.2 221.8 L604.5 230.5 L600.1 241.4"/><path fill="none" stroke="#000" stroke-width="3.5" stroke-linejoin="round" stroke-linecap="round" d="M603.0 233.0 L606.6 232.7 L613.2 230.5 L619.7 232.7 L626.3 234.9 L632.8 235.9 L639.3 237.0 L650.0 237.6"/><path fill="none" stroke="#000" stroke-width="2.7" stroke-linejoin="round" stroke-linecap="round" d="M98.8 71.4 L101.3 73.4 L104.4 74.9 L107.1 78.6 L109.5 80.6 L113.3 81.7 L115.7 84.4 L119.9 86.4 L125.0 85.8 L131.2 81.7 L137.4 79.6 L142.6 75.5 L148.8 74.9 L157.0 77.5 L163.2 80.6 L168.4 84.8 L172.5 89.9 L174.6 94.1 L173.5 98.2 L167.3 102.3 M98.8 71.4 L99.6 78.6 L99.2 86.8 L99.6 95.5 L104.4 93.0 L110.6 94.1 L115.7 95.5 L119.9 99.2 L121.9 101.3 L126.1 105.8 L132.2 104.4 L137.4 102.9 L135.3 97.2 L132.2 94.1 L137.4 89.9 L141.5 82.7 L146.7 81.7 L153.9 84.8 L159.1 87.9 L161.1 92.0 L159.1 96.1 L162.2 101.3 L166.3 103.3 M166.3 103.3 L169.4 109.5 L172.5 115.7 L171.5 124.0 L172.5 134.3 L173.5 144.6 L175.6 150.8 L171.5 157.0 L166.3 165.3 L157.0 168.4 L155.0 174.6 L153.9 178.7 L150.8 180.8 L152.9 183.9 L144.6 186.9 L137.4 190.0 L136.4 196.2 L132.2 204.5 L131.2 210.1 M151.9 181.8 L161.1 186.9 L171.5 193.1 L178.7 196.2 L185.9 197.3 L192.1 200.4 L200.4 202.4 L208.6 205.5 L212.8 210.1 M173.5 98.2 L178.7 96.7 L179.7 91.0 L183.9 84.8 L190.0 80.6 L194.2 77.5 L196.2 69.3 M225.1 80.6 L228.2 75.5 L231.3 70.3 M241.4 70.3 L244.4 69.3 L250.6 68.7 L254.8 71.4 L255.8 76.5 L252.7 80.6 L247.5 81.7 L243.4 78.6 L241.4 74.4 Z M230.0 77.5 L233.1 82.7 L237.2 91.0 L236.2 99.2 L239.3 106.4 L244.4 109.5 L254.8 108.5 L263.0 109.5 L268.2 110.6 L273.3 116.8 L278.5 120.9 L287.8 119.9 L298.1 118.8 L302.2 120.9 L300.2 124.0 L298.1 130.2 L297.1 142.6 L299.2 150.8 L303.3 156.0 L302.2 161.1 L297.1 163.2 L300.2 167.3 L304.3 171.5 L308.4 181.8 L314.6 188.0 L318.8 191.1 L325.0 189.0 L333.2 183.9 L343.5 179.7 L353.9 172.5 M353.9 172.5 L358.0 175.6 L362.1 181.8 L366.2 190.0 L367.3 200.4 L368.3 210.1 M353.9 172.5 L347.7 167.3 L342.5 155.0 L337.3 144.6 L345.6 148.8 L353.9 150.8 L362.1 148.8 L370.4 146.7 L378.6 143.6 L384.8 140.5 L392.0 134.3 M303.3 171.5 L291.9 174.6 L281.6 177.7 L271.3 178.7 L272.3 183.9 L279.5 186.9 L279.5 192.1 L270.3 192.1 L268.2 197.3 L269.2 210.1 M360.0 69.3 L367.3 72.4 L372.4 74.4 L378.6 73.4 L386.9 76.5 L388.9 80.6 L383.8 86.8 L377.6 87.9 L386.9 88.9 L399.3 89.9 L405.5 93.0 L410.0 96.1 M399.3 91.0 L395.1 97.2 L391.0 101.3 L393.1 107.5 L386.9 111.6 L382.8 117.8 L381.7 121.9 L386.9 129.2 L392.0 134.3 L395.1 133.3 L398.2 136.4 L400.3 142.6 L404.4 148.8 L402.4 157.0 L400.3 165.3 L403.4 175.6 L410.0 181.8 M400.0 89.9 L406.2 93.0 L412.4 98.2 L418.6 103.3 L420.6 109.5 L417.5 113.7 L416.5 116.8 M419.6 110.6 L426.8 113.7 L433.0 117.8 L437.2 121.9 L445.4 121.9 L453.7 123.0 L461.9 121.9 L470.2 123.0 L477.4 125.0 L486.7 129.2 L495.0 134.3 L501.1 138.4 L505.3 142.6 L511.5 143.6 L514.6 146.7 L517.7 155.0 L519.7 165.3 L521.8 171.5 L524.9 173.5 L530.0 177.7 L532.1 183.9 L530.0 192.1 M437.2 121.9 L435.1 128.1 L434.1 134.3 L428.9 137.4 L425.8 142.6 L424.8 148.8 L428.9 155.0 L434.1 159.1 L438.2 165.3 L441.3 172.5 L444.4 174.6 M477.4 125.0 L472.2 130.2 L471.2 138.4 L474.3 146.7 L477.4 152.9 L475.3 161.1 L472.2 169.4 L472.2 172.5 M508.4 144.6 L503.2 155.0 L497.0 165.3 L493.9 170.4 L486.7 170.4 L480.5 171.5 L472.2 172.5 M404.1 175.6 L410.3 181.8 L415.5 183.9 L420.6 179.7 L428.9 176.6 L439.2 174.6 L447.5 174.6 L451.6 169.4 L459.9 168.4 L466.1 167.3 L469.2 171.5 L472.2 172.5 M468.1 172.5 L474.3 177.7 L482.6 183.9 L488.8 192.1 L492.9 202.4 L495.0 210.1 M400.0 197.3 L413.4 197.3 M414.0 184.0 L414.0 200.0 M137.0 200.0 L132.6 204.4 L128.2 211.0 L126.0 216.5 L127.1 222.0 L124.9 228.6 L130.4 233.0 L135.9 235.2 L139.2 228.6 L140.3 233.0 L138.1 239.6 L134.8 246.2 L126.0 251.7 L121.6 257.2 L120.5 263.8 L123.8 270.4 L122.7 279.2 L126.0 282.5 L134.8 286.9 L141.4 292.4 L148.0 303.4 L154.6 312.2 L159.0 323.2 L163.4 332.0 L168.9 343.0 L172.2 351.8 L175.5 360.0 M132.6 252.8 L131.5 258.3 L137.0 258.3 L141.4 259.4 L144.7 263.8 L149.1 266.0 L152.4 261.6 L154.6 255.0 L159.0 246.2 L165.6 239.6 L178.8 235.2 L187.6 230.8 L194.2 224.2 L198.6 213.2 L197.5 206.6 L194.2 201.1 M196.4 200.0 L205.2 204.4 L211.8 208.8 L218.4 213.2 L222.8 219.8 L227.2 224.2 L229.4 230.8 L240.0 233.0 M240.0 262.7 L233.8 266.0 L229.4 272.6 L227.2 281.4 L222.8 288.0 L220.6 294.6 L216.7 297.9 L218.4 303.4 L222.8 310.0 L227.2 318.8 L228.3 324.3 L236.0 325.4 L240.0 329.8 M220.6 294.6 L231.6 297.9 L240.0 300.1 M268.5 200.0 L274.0 206.6 L276.2 213.2 L275.1 222.0 L272.9 233.0 L270.7 244.0 L269.6 257.2 L260.8 257.2 L252.0 258.3 L243.2 260.5 L234.4 264.9 L230.0 270.4 M230.0 233.0 L238.8 230.8 L246.5 228.6 L254.2 229.7 L263.0 231.9 L268.5 235.2 L265.2 241.8 L259.7 249.5 L265.2 251.7 L269.6 257.2 M368.6 200.0 L366.4 209.9 L373.0 213.2 L379.6 220.9 L381.8 215.4 L384.0 211.0 L392.8 209.9 L397.2 203.3 L399.4 200.0 M230.0 297.9 L243.2 300.1 L268.5 303.4 L276.2 310.0 L287.2 318.8 L300.4 325.4 L309.2 328.7 M313.6 329.8 L318.0 324.3 L324.6 323.2 L333.4 319.9 L344.4 316.6 L349.9 307.8 L353.2 305.6 L362.0 305.6 L368.6 310.0 L375.2 315.5 L410.0 315.5 M379.6 315.5 L379.6 344.1 L399.4 345.2 L401.6 354.0 L399.4 360.0 M230.0 319.9 L238.8 323.2 L241.0 330.9 L252.0 329.8 L258.6 325.4 L261.9 324.3 L261.9 336.4 L263.0 344.1 L274.0 344.1 L280.6 345.2 L287.2 346.3 L296.0 340.8 L304.8 335.3 L313.6 329.8 L322.4 327.6 L327.9 328.7 L329.0 336.4 L330.1 345.2 L333.4 354.0 L337.8 360.0 M275.1 344.1 L280.6 354.0 L283.9 360.0 M413.2 200.0 L416.5 206.6 L422.0 213.2 L428.6 219.8 L437.4 225.3 L444.0 227.5 L450.6 227.5 L447.3 229.7 L419.8 289.1 L422.0 296.8 L421.6 305.6 L420.9 315.5 L400.0 315.5 M419.8 289.1 L424.2 296.8 L429.7 312.2 L437.4 321.0 L442.9 324.3 L526.5 329.8 M520.6 360.0 L521.0 351.8 L523.2 340.8 L526.5 329.8 L532.0 316.6 L538.6 303.4 L540.8 294.6 L545.2 283.6 L551.8 272.6 L558.4 263.8 L567.2 255.0 L573.8 244.0 L578.2 233.0 L580.0 224.2 M552.0 273.0 L554.3 268.9 L560.1 272.7 L562.0 293.9 L573.5 303.5 L575.5 309.3 L569.7 317.0 L575.5 328.6 L583.2 334.4 M480.0 182.2 L485.4 185.4 L489.8 193.1 L494.2 201.8 L498.5 210.5 L502.9 215.9 L506.1 219.2 M550.8 211.6 L556.3 207.8 L562.8 208.3 L570.4 210.5 L580.0 211.6 M570.0 209.9 L578.8 213.2 L587.6 216.5 L596.4 217.6 L600.8 224.2 L603.0 230.8 L599.7 241.8 L606.3 236.3 L614.0 230.8 L620.6 233.0 L629.4 235.2 L640.4 238.5 L649.2 237.4 L660.2 237.4 L669.0 241.8 L680.0 250.6 L688.8 258.3 L697.6 264.9 L706.4 266.0 L715.2 267.1 L721.8 268.2 L724.0 274.8 L726.2 283.6 L728.4 292.4 L727.3 303.4 L726.2 312.2 L721.8 323.2 L717.4 329.8 L710.8 336.4 L702.0 345.2 L695.4 354.0 L692.1 360.0 M640.4 238.5 L629.4 246.2 L623.9 252.8 L622.8 266.0 L621.7 281.4 L620.6 288.0 L609.6 292.4 L596.4 299.0 L588.7 303.4 L584.3 312.2 L583.2 325.4 L586.5 332.0 L578.8 336.4 L574.4 345.2 L576.6 351.8 L578.8 360.0 M586.5 332.0 L594.2 340.8 L603.0 340.8 L611.8 332.0 L614.0 326.5 L625.0 325.4 L638.2 318.8 L640.0 316.0 M643.0 240.0 L645.0 253.0 L646.0 260.0 M645.5 260.0 L648.3 268.3 L651.0 277.9 L653.8 287.5 L655.1 293.0 L653.1 296.5 L654.4 301.3 L652.4 305.4 L645.5 312.3 L640.0 315.7 M653.8 296.5 L662.0 297.1 L667.5 298.5 L673.0 302.6 L679.9 301.3 L688.1 297.8 L695.0 296.5 L699.1 299.9 L697.8 306.8 L701.9 308.1 L711.5 302.6 L719.8 300.6 L728.0 299.2 M692.3 264.1 L686.8 273.8 L681.3 282.0 L678.5 290.3 L677.1 295.8 L673.0 302.6 M681.3 284.1 L688.1 282.0 L695.0 279.9 L697.8 282.0 L696.4 287.5 L700.5 289.6 L706.0 288.9 L707.4 284.8 L714.3 285.4 L722.5 286.1 L726.7 285.4 M640.0 316.4 L645.5 313.6 L649.6 317.8 L652.4 323.3 L657.9 320.5 L662.0 317.8 L668.9 312.3 L677.1 315.0 L684.0 319.1 L690.9 317.8 L697.8 319.1 L704.6 320.5 L712.9 317.8 L722.5 316.4 M684.0 319.8 L692.3 326.0 L700.5 331.5 L707.4 338.4 M689.5 327.4 L690.9 334.3 L686.8 342.5 L685.4 346.7 L690.9 350.8 L693.6 353.5 M170.9 350.0 L176.4 358.8 L180.8 365.4 L186.3 374.2 L187.4 378.6 L185.2 383.0 L189.6 389.6 L194.0 394.0 L200.6 400.6 L209.4 407.2 L218.2 412.7 L227.0 416.0 L235.8 419.3 L244.6 425.9 L250.1 428.1 L251.2 432.5 L257.8 436.9 L264.4 440.2 L265.5 449.0 L266.6 464.4 L266.6 482.0 L264.4 493.0 L263.3 501.8 L261.1 504.0 L262.2 510.0 M264.4 440.2 L268.8 439.1 L271.0 433.6 L274.3 431.4 M277.6 350.0 L284.2 358.8 L285.3 365.4 L282.0 369.8 L283.1 378.6 L280.9 385.2 L282.0 389.6 L277.6 396.2 L278.7 402.8 L276.5 407.2 L279.8 413.8 L283.1 414.9 L277.6 420.4 L273.2 425.9 L272.1 429.2 L274.3 431.4 L279.8 438.0 L282.0 444.6 L284.2 453.4 L288.6 455.6 L285.3 462.2 L287.5 471.0 L290.8 477.6 L294.1 486.4 L297.4 499.6 L304.0 500.7 L308.4 498.5 L306.2 510.0 M304.0 500.7 L308.4 495.2 L312.8 490.8 L318.3 486.4 L323.8 489.7 L330.0 489.7 M329.9 350.0 L335.4 356.6 L344.2 363.2 L355.2 367.6 L364.0 372.0 L375.0 377.5 L386.0 378.6 L392.6 380.8 L394.8 391.8 L392.6 398.4 L395.9 402.8 L397.0 413.8 L421.2 413.8 L420.1 422.6 L425.6 429.2 L431.1 433.6 L432.2 440.2 L428.9 449.0 L425.6 457.8 L423.4 462.2 L426.7 464.4 L425.6 473.2 L426.7 482.0 M424.5 460.0 L412.4 454.5 L399.2 452.3 L386.0 454.5 L375.0 460.0 L369.5 469.9 L368.4 482.0 L365.1 490.8 L359.6 488.6 L348.6 488.6 L346.4 490.8 L343.1 499.6 L339.8 493.0 L331.0 489.7 L320.0 488.6 M365.1 490.8 L372.8 499.6 L383.8 510.0 M399.2 350.0 L401.4 361.0 L397.0 372.0 L392.6 378.6 M431.1 434.7 L438.8 430.3 L452.0 425.9 L463.0 429.2 L474.0 430.3 L480.6 427.0 L482.8 434.7 L490.0 437.0 M490.0 424.0 L489.0 429.0 L494.0 440.0 L500.0 447.0 M523.0 340.0 L521.9 353.2 L523.0 366.4 L520.8 377.4 L518.6 388.4 L514.2 395.0 L509.8 399.4 L505.4 406.0 L498.8 412.6 L492.2 421.4 L490.0 423.6 M523.0 366.4 L528.5 364.2 L536.2 368.6 L542.8 368.6 L549.4 373.0 L560.4 374.1 L569.2 370.8 L578.0 369.7 M578.0 340.0 L575.8 348.8 L578.0 357.6 L579.1 368.6 L580.2 379.6 L582.4 399.4 M582.4 399.4 L578.0 395.0 L572.5 397.2 L569.2 406.0 L564.8 410.4 L565.9 419.2 L567.0 428.0 L563.7 439.0 L551.6 441.2 L540.6 443.4 L529.6 447.8 L520.8 452.2 L516.4 456.6 M552.7 403.8 L564.8 403.8 L564.8 410.9 L552.7 410.9 Z M490.0 436.8 L498.8 443.4 L507.6 450.0 L516.4 454.4 L518.6 459.9 M517.5 459.9 L512.0 467.6 L507.6 476.4 L503.2 485.2 L496.6 494.0 L490.0 498.4 M657.2 434.6 L670.0 434.6 M589.0 340.0 L595.6 343.3 L602.2 340.0 M689.4 362.2 L684.0 367.5 L678.7 365.8 L676.0 372.9 L672.4 378.3 L674.2 387.2 L675.1 397.9 L676.0 408.7 L673.3 419.4 L672.4 431.9 L667.9 437.3 M582.0 399.0 L593.0 393.0 L600.0 387.2 L608.9 387.2 L612.5 392.6 L619.7 392.6 L626.8 396.2 L635.8 397.9 L642.9 401.5 L644.7 406.9 L653.6 406.9 L662.6 411.4 L659.0 419.4 L654.5 423.0 L653.6 430.1 L659.0 433.7 L664.4 437.3 M265.8 490.0 L263.0 501.0 L261.7 509.3 L263.0 517.5 L260.3 531.3 L258.9 542.3 L256.1 556.1 L252.0 569.8 L249.3 580.8 L250.6 589.1 L246.5 600.1 L247.9 613.9 L249.3 627.6 L245.1 641.4 L241.0 652.4 L235.5 663.4 L231.4 674.4 L230.0 681.3 M296.1 490.0 L297.4 499.6 L307.1 501.0 L304.3 514.8 L290.6 520.3 L287.8 528.5 L289.2 539.5 L287.8 550.6 L283.7 556.1 L276.8 567.1 L271.3 575.3 L268.5 583.6 L269.9 594.6 L263.0 605.6 L261.7 613.9 L265.8 624.9 L268.5 633.1 L271.3 638.6 L269.9 649.6 L264.4 657.9 L263.0 666.1 L263.0 674.4 L256.1 679.9 L253.4 682.7 M362.1 490.0 L373.1 501.0 L384.1 509.3 L395.1 514.8 L410.0 521.7 M426.0 480.0 L426.0 489.0 L445.0 491.0 L454.0 493.0 L457.0 503.0 L459.0 514.0 L475.0 515.0 L472.2 523.3 L470.8 534.9 L476.6 536.3 L480.9 546.5 L482.3 555.1 L469.3 559.5 L457.8 566.7 L446.2 578.2 L434.7 592.7 L428.9 597.0 M400.0 516.1 L414.4 523.3 L428.9 532.0 L426.0 543.6 L420.2 549.3 L417.3 558.0 L428.9 559.5 L443.3 560.9 L457.8 555.1 L469.3 549.3 L473.7 536.3 M490.0 498.0 L484.0 499.0 L478.0 506.0 L475.0 515.0 M483.8 498.8 L495.3 495.9 L509.8 497.3 L521.3 498.8 L531.5 500.2 L535.8 511.8 L538.7 523.3 L544.5 526.2 L550.2 527.7 L553.1 532.0 M482.3 545.0 L492.5 546.5 L506.9 549.3 L515.6 545.0 L527.1 542.1 L538.7 540.7 L547.4 542.1 M482.3 556.6 L495.3 556.6 L509.8 559.5 L518.5 566.7 L527.1 572.5 L532.9 575.3 L530.0 582.6 M552.0 558.0 L547.4 567.0 L544.2 575.0 L532.9 584.7 L528.1 592.8 L523.2 601.7 L515.2 610.5 L505.5 618.6 L500.7 621.8 L495.8 629.9 L491.0 636.3 L484.5 642.0 L475.1 650.5 L466.5 654.8 L452.0 656.2 L437.6 654.8 L426.0 651.9 L420.2 647.6 L418.8 636.0 L423.1 624.5 L424.6 607.1 L428.9 597.0 M428.9 597.0 L443.3 595.6 L452.0 601.3 L454.9 607.1 L463.6 607.1 L472.2 614.3 L480.9 621.6 L489.6 630.2 L486.7 634.6 L483.8 641.8 M420.2 647.6 L431.8 659.1 L437.6 667.8 L440.4 676.5 L443.3 682.2 M513.6 596.0 L518.4 596.0 L523.2 598.4 L520.0 605.7 L512.0 613.8 L503.9 620.2 L501.5 618.6 L507.1 610.5 L513.6 602.5 L513.6 596.0 Z M668.0 437.0 L664.7 450.5 L661.2 459.2 L655.9 467.9 L649.0 476.6 L648.1 481.8 L649.0 488.8 L642.0 492.3 L636.8 495.8 L635.0 501.0 L624.6 501.0 L619.3 500.1 L610.6 501.0 L601.9 501.0 L596.7 504.5 L593.2 509.7 L586.2 513.2 L577.5 514.9 L568.8 520.2 L558.3 527.1 L553.1 530.6 L549.6 535.9 L548.8 544.6 L549.6 559.9 M520.0 460.0 L530.5 460.9 L542.7 461.8 L551.4 462.7 L563.6 461.8 L567.1 466.1 L568.8 474.9 L572.3 480.1 L575.8 482.7 L574.9 492.3 L579.3 500.1 L589.7 496.6 L600.2 494.0 L617.6 489.7 L631.5 483.6 L635.0 474.9 L638.5 467.9 L647.2 460.9 L649.0 450.5 L647.2 440.0 L651.0 437.0 L657.0 435.0 M638.5 476.6 L649.0 477.5 M600.2 495.8 L605.4 497.5"/></g><g stroke="#b0b0b0" stroke-width="1.2" stroke-dasharray="4.9 2.2" fill="none"><line x1="63" y1="123.4" x2="774" y2="123.4"/><line x1="63" y1="201.7" x2="774" y2="201.7"/><line x1="63" y1="280.1" x2="774" y2="280.1"/><line x1="63" y1="358.4" x2="774" y2="358.4"/><line x1="63" y1="436.7" x2="774" y2="436.7"/><line x1="63" y1="515.1" x2="774" y2="515.1"/><line x1="63" y1="593.4" x2="774" y2="593.4"/><line x1="63" y1="671.8" x2="774" y2="671.8"/><line x1="138.4" y1="69" x2="138.4" y2="682"/><line x1="269.1" y1="69" x2="269.1" y2="682"/><line x1="399.9" y1="69" x2="399.9" y2="682"/><line x1="530.6" y1="69" x2="530.6" y2="682"/><line x1="661.4" y1="69" x2="661.4" y2="682"/></g><rect x="61.5" y="67.5" width="714" height="616" fill="none" stroke="#000" stroke-width="3"/><g font-size="11.2" fill="#808080"><text x="25.7" y="127.4" textLength="20.9" lengthAdjust="spacingAndGlyphs">6°N</text><text x="34.0" y="205.7" textLength="12.6" lengthAdjust="spacingAndGlyphs">0°</text><text x="26.9" y="284.1" textLength="19.7" lengthAdjust="spacingAndGlyphs">6°S</text><text x="19.9" y="362.4" textLength="26.7" lengthAdjust="spacingAndGlyphs">12°S</text><text x="19.9" y="440.7" textLength="26.7" lengthAdjust="spacingAndGlyphs">18°S</text><text x="19.9" y="519.1" textLength="26.7" lengthAdjust="spacingAndGlyphs">24°S</text><text x="19.9" y="597.4" textLength="26.7" lengthAdjust="spacingAndGlyphs">30°S</text><text x="19.9" y="675.8" textLength="26.7" lengthAdjust="spacingAndGlyphs">36°S</text><text x="122.5" y="706.1" textLength="30.6" lengthAdjust="spacingAndGlyphs">80°W</text><text x="253.2" y="706.1" textLength="30.6" lengthAdjust="spacingAndGlyphs">70°W</text><text x="384.0" y="706.1" textLength="30.6" lengthAdjust="spacingAndGlyphs">60°W</text><text x="514.7" y="706.1" textLength="30.6" lengthAdjust="spacingAndGlyphs">50°W</text><text x="645.5" y="706.1" textLength="30.6" lengthAdjust="spacingAndGlyphs">40°W</text></g><text x="68.5" y="668.3" font-size="12.1" font-weight="bold" textLength="132.8" lengthAdjust="spacingAndGlyphs" fill="#000">SEMAD/CIMEHGO</text><rect x="822.1" y="631.57" width="29.9" height="51.63" fill="#f1faee"/><rect x="822.1" y="580.23" width="29.9" height="51.63" fill="#e5f5e0"/><rect x="822.1" y="528.90" width="29.9" height="51.63" fill="#d1edcb"/><rect x="822.1" y="477.57" width="29.9" height="51.63" fill="#bbe4b4"/><rect x="822.1" y="426.23" width="29.9" height="51.63" fill="#a0d99b"/><rect x="822.1" y="374.90" width="29.9" height="51.63" fill="#83cb82"/><rect x="822.1" y="323.57" width="29.9" height="51.63" fill="#63bc6e"/><rect x="822.1" y="272.23" width="29.9" height="51.63" fill="#40aa5d"/><rect x="822.1" y="220.90" width="29.9" height="51.63" fill="#2d954d"/><rect x="822.1" y="169.57" width="29.9" height="51.63" fill="#17813d"/><rect x="822.1" y="118.23" width="29.9" height="51.63" fill="#006c2c"/><rect x="822.1" y="66.90" width="29.9" height="51.63" fill="#005120"/><g font-size="13.9" fill="#000"><text x="872.2" y="690.2" textLength="8.8" lengthAdjust="spacingAndGlyphs">0</text><text x="872.2" y="587.5" textLength="17.7" lengthAdjust="spacingAndGlyphs">40</text><text x="872.2" y="484.9" textLength="17.7" lengthAdjust="spacingAndGlyphs">80</text><text x="872.2" y="382.2" textLength="26.5" lengthAdjust="spacingAndGlyphs">120</text><text x="872.2" y="279.5" textLength="26.5" lengthAdjust="spacingAndGlyphs">160</text><text x="872.2" y="176.9" textLength="26.5" lengthAdjust="spacingAndGlyphs">200</text><text x="872.2" y="74.2" textLength="26.5" lengthAdjust="spacingAndGlyphs">240</text></g></svg></body></html>
